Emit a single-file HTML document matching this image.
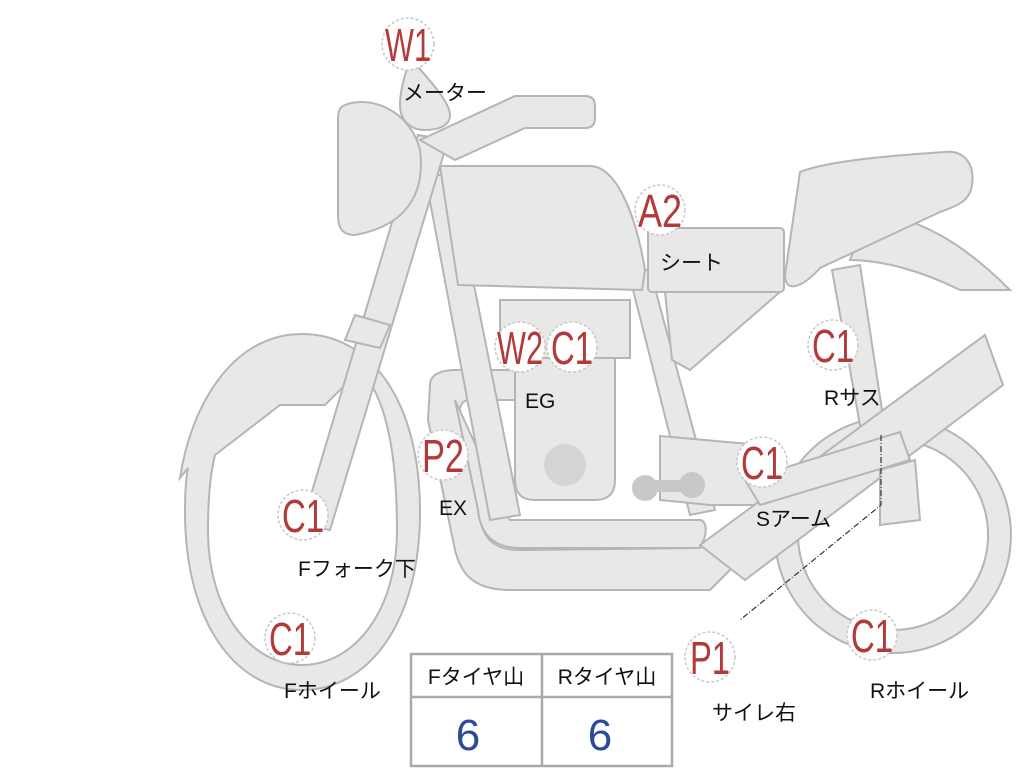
<!DOCTYPE html>
<html><head><meta charset="utf-8"><style>
body{margin:0;background:#fff;}
svg{display:block}
.s{fill:#e8e8e6;stroke:#b5b5b5;stroke-width:2}
.lbl{font-family:"Liberation Sans Narrow","Liberation Sans",sans-serif;fill:#b23a3a;font-size:46px}
.jp{font-family:"Liberation Sans","Noto Sans CJK JP",sans-serif;fill:#111;font-size:21px}
.c{fill:#fff;stroke:#c8c8c8;stroke-width:1.5;stroke-dasharray:3 2}
</style></head><body>
<svg width="1024" height="768" viewBox="0 0 1024 768" xmlns="http://www.w3.org/2000/svg">
<!-- front wheel & fender (one oval ring) -->
<path class="s" fill-rule="evenodd" d="M302,334 C370,334 420,400 420,512 C420,620 370,690 302,690 C234,690 185,620 185,512 C185,490 186,478 188,468 L180,478 C190,410 230,334 302,334 Z M215,455 L280,405 L325,405 L360,370 C385,395 397,450 397,530 C397,610 355,665 302,665 C250,665 208,610 208,530 C208,500 210,475 215,455 Z"/>
<!-- rear wheel -->
<path class="s" fill-rule="evenodd" d="M893,417 A118,118 0 1 1 892.9,417 Z M893,440 A95,95 0 1 0 893.1,440 Z"/>
<!-- rear shock -->
<polygon class="s" points="832,270 860,265 885,430 862,436"/>
<!-- exhaust pipes -->
<path class="s" d="M430,385 C430,375 440,370 455,370 L515,370 L515,400 L470,400 C460,400 458,410 460,420 L480,520 C485,540 495,550 520,550 L700,548 L740,520 L760,540 L710,590 L510,590 C470,590 460,570 455,550 L428,420 Z"/>
<path class="s" d="M455,400 L510,520 L700,520 C705,520 710,530 700,548 L520,548 C490,548 480,530 478,510 Z"/>
<!-- down tube -->
<polygon class="s" points="425,175 452,175 520,515 490,520"/>
<!-- frame rear -->
<polygon class="s" points="628,270 650,270 715,510 690,515"/>
<!-- engine -->
<rect class="s" x="500" y="300" width="130" height="58"/>
<path class="s" d="M515,358 L615,358 L615,480 Q615,500 595,500 L535,500 Q515,500 515,480 Z"/>
<circle cx="565" cy="465" r="21" fill="#d4d4d4"/>
<!-- swing arm -->
<polygon class="s" points="660,436 760,445 790,470 760,505 710,505 660,500"/>
<g fill="#c8c8c8"><circle cx="645" cy="488" r="13"/><circle cx="692" cy="485" r="13"/><rect x="645" y="480" width="47" height="12"/></g>
<!-- muffler -->
<polygon class="s" points="700,545 985,335 1003,385 745,580"/>
<polygon class="s" points="880,470 915,460 920,520 880,525"/>
<polygon class="s" points="745,480 900,432 910,460 760,505"/>
<!-- side cover & seat -->
<polygon class="s" points="665,292 780,292 690,370 672,360"/>
<rect class="s" x="648" y="228" width="136" height="64" rx="4"/>
<path class="s" d="M870,210 C920,220 960,240 1010,290 L960,290 C920,270 880,260 850,260 Z"/>
<path class="s" d="M800,172 C830,160 900,155 945,152 C965,150 975,165 972,185 C970,200 960,205 940,212 L820,268 C800,290 785,292 785,275 Z"/>
<!-- tank -->
<path class="s" d="M440,166 L590,166 C615,166 635,210 645,270 L642,290 L458,285 Z"/>
<!-- fork -->
<polygon class="s" points="418,135 448,140 330,530 302,525"/>
<polygon class="s" points="355,315 390,325 380,348 345,340"/>
<!-- handlebar -->
<path class="s" d="M420,140 L515,96 L585,96 Q595,96 595,106 L595,118 Q595,128 585,128 L525,128 L455,160 Z"/>
<!-- headlight -->
<path class="s" d="M345,105 C370,95 410,110 420,150 C425,190 410,225 355,235 C340,235 338,225 338,215 L338,120 C338,110 340,107 345,105 Z"/>
<!-- meter -->
<path class="s" d="M410,58 C420,70 450,100 450,115 C450,125 440,130 425,130 C410,130 400,120 400,105 C400,90 405,75 410,58 Z"/>
<!-- dashed leader -->
<path d="M881,435 L881,505 L740,620" fill="none" stroke="#333" stroke-width="1.2" stroke-dasharray="6 2 1 2"/>
<!-- labels -->
<g>
<circle class="c" cx="408" cy="44" r="26"/><text class="lbl" x="408" y="61" text-anchor="middle" textLength="46" lengthAdjust="spacingAndGlyphs">W1</text>
<circle class="c" cx="660" cy="210" r="25"/><text class="lbl" x="660" y="227" text-anchor="middle" textLength="44" lengthAdjust="spacingAndGlyphs">A2</text>
<circle class="c" cx="520" cy="347" r="25"/><circle class="c" cx="572" cy="347" r="25"/>
<text class="lbl" x="520" y="364" text-anchor="middle" textLength="46" lengthAdjust="spacingAndGlyphs">W2</text>
<text class="lbl" x="572" y="364" text-anchor="middle" textLength="42" lengthAdjust="spacingAndGlyphs">C1</text>
<circle class="c" cx="443" cy="455" r="25"/><text class="lbl" x="443" y="472" text-anchor="middle" textLength="42" lengthAdjust="spacingAndGlyphs">P2</text>
<circle class="c" cx="303" cy="515" r="25"/><text class="lbl" x="303" y="532" text-anchor="middle" textLength="42" lengthAdjust="spacingAndGlyphs">C1</text>
<circle class="c" cx="290" cy="638" r="25"/><text class="lbl" x="290" y="655" text-anchor="middle" textLength="42" lengthAdjust="spacingAndGlyphs">C1</text>
<circle class="c" cx="833" cy="345" r="25"/><text class="lbl" x="833" y="362" text-anchor="middle" textLength="42" lengthAdjust="spacingAndGlyphs">C1</text>
<circle class="c" cx="762" cy="462" r="25"/><text class="lbl" x="762" y="479" text-anchor="middle" textLength="42" lengthAdjust="spacingAndGlyphs">C1</text>
<circle class="c" cx="710" cy="657" r="25"/><text class="lbl" x="710" y="674" text-anchor="middle" textLength="40" lengthAdjust="spacingAndGlyphs">P1</text>
<circle class="c" cx="872" cy="635" r="25"/><text class="lbl" x="872" y="652" text-anchor="middle" textLength="42" lengthAdjust="spacingAndGlyphs">C1</text>
</g>
<g class="jp">
<text x="403" y="100">メーター</text>
<text x="660" y="270">シート</text>
<text x="525" y="408">EG</text>
<text x="439" y="515">EX</text>
<text x="298" y="576">Fフォーク下</text>
<text x="284" y="698">Fホイール</text>
<text x="824" y="405">Rサス</text>
<text x="756" y="526">Sアーム</text>
<text x="712" y="720">サイレ右</text>
<text x="870" y="698">Rホイール</text>
</g>
<!-- table -->
<g>
<rect x="411" y="654" width="261" height="112" fill="#fff" stroke="#aaa" stroke-width="2.5"/>
<line x1="411" y1="697" x2="672" y2="697" stroke="#aaa" stroke-width="2.5"/>
<line x1="542" y1="654" x2="542" y2="766" stroke="#aaa" stroke-width="2.5"/>
<text class="jp" x="476" y="684" text-anchor="middle">Fタイヤ山</text>
<text class="jp" x="607" y="684" text-anchor="middle">Rタイヤ山</text>
<text x="468" y="750" text-anchor="middle" font-family="Liberation Sans Narrow,Liberation Sans,sans-serif" font-size="44" fill="#2b4a9a">6</text>
<text x="600" y="750" text-anchor="middle" font-family="Liberation Sans Narrow,Liberation Sans,sans-serif" font-size="44" fill="#2b4a9a">6</text>
</g>
</svg>
</body></html>
